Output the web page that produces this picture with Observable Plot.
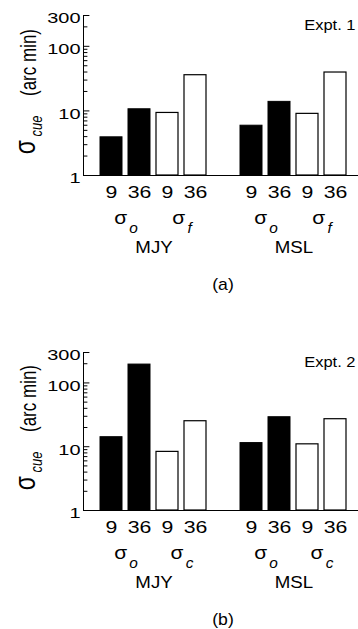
<!DOCTYPE html>
<html><head><meta charset="utf-8">
<script src="https://cdn.jsdelivr.net/npm/d3@7"></script>
<script src="https://cdn.jsdelivr.net/npm/@observablehq/plot@0.6"></script>
<style>
body{margin:0;background:#fff;}
#chart{width:358px;}
svg{display:block;}
</style></head><body><div id="chart"></div>
<script>
const subjects = ["MJY", "MSL"];
const noiseLevels = ["9", "36"];
const cues1 = ["o", "f"];
const cues2 = ["o", "c"];
const expt1MJY = [3.9, 10.6, 9.3, 35.7];
const expt1MSL = [5.9, 13.8, 9.0, 39.3];
const expt2MJY = [14.1, 194, 8.3, 25.1];
const expt2MSL = [11.4, 29.0, 10.9, 27.0];
const yMajor = [1, 10, 100, 300];
const yMinor = [2, 3, 4, 5, 6, 7, 8, 9, 20, 30, 40, 50, 60, 70, 80, 90, 200];
const panelLetters = ["(a)", "(b)"];
const exptNames = ["Expt. 1", "Expt. 2"];
const yLabelParts = ["σ", "cue", "(arc min)"];

function rowsFor(cues, mjy, msl) {
  const vals = {MJY: mjy, MSL: msl};
  const rows = [];
  subjects.forEach(s => cues.forEach((c, ci) => noiseLevels.forEach((n, ni) => {
    rows.push({subject: s, cue: c, n, key: `${s} ${c} ${n}`, value: vals[s][ci * 2 + ni], filled: c === "o"});
  })));
  return rows;
}

// the reference's lettering is horizontally wide: stretch glyphs about their anchor
function stretch(svg) {
  d3.select(svg).selectAll("text").each(function() {
    const t = this.textContent;
    const tr = this.getAttribute("transform");
    let s;
    if (tr && tr.includes("rotate")) s = " scale(1,1.3)";
    else if (/^\d+$/.test(t)) s = " scale(1.33,1)";
    else s = " scale(1.1,1)";
    if (tr) this.setAttribute("transform", tr + s);
    else {
      const x = +this.getAttribute("x") || 0, y = +this.getAttribute("y") || 0;
      this.setAttribute("transform", `translate(${x},${y})${s} translate(${-x},${-y})`);
    }
  });
}

// turn "σ_o" into a σ with an italic subscript
function subscripts(svg) {
  d3.select(svg).selectAll("text").each(function() {
    const t = this.textContent;
    if (t.indexOf("_") < 0) return;
    const parts = t.split("_");
    const sel = d3.select(this);
    sel.text(null);
    sel.append("tspan").attr("font-size", 19).text(parts[0]);
    sel.append("tspan").attr("dy", 9).attr("dx", 2).attr("font-style", "italic").attr("font-size", 14).text(parts[1]);
  });
}

// nudge the rotated axis-title pieces so their boxes sit where the reference shows them
function placeLabel(svg, mid) {
  const offsets = {"σ": [24.5, 52], "cue": [36, 31], "(arc min)": [28, -32.5]};
  const r0 = svg.getBoundingClientRect();
  d3.select(svg).selectAll("text").each(function() {
    const t = this.textContent;
    if (!(t in offsets)) return;
    const r = this.getBoundingClientRect();
    const cx = r.left + r.width / 2 - r0.left, cy = r.top + r.height / 2 - r0.top;
    const [tx, oy] = offsets[t];
    this.setAttribute("transform", `translate(${tx - cx},${mid + oy - cy}) ` + (this.getAttribute("transform") || ""));
  });
}

const tickRight = {draw(context, l) { context.moveTo(0, 0); context.lineTo(0, -l); }};

function panel(rows, expt, letter, height, marginBottom) {
  const domain = [...rows.filter(d => d.subject === "MJY").map(d => d.key), "gap",
                  ...rows.filter(d => d.subject === "MSL").map(d => d.key)];
  const below = {frameAnchor: "bottom", lineAnchor: "middle", textAnchor: "middle"};
  const side = {frameAnchor: "left", lineAnchor: "middle", textAnchor: "middle", rotate: -90};
  const svg = Plot.plot({
    width: 358, height, marginTop: 15, marginLeft: 83, marginRight: 0, marginBottom,
    style: {fontFamily: "'Liberation Sans', Arial, sans-serif", background: "white", color: "black", overflow: "visible"},
    x: {domain, range: [90.2, 355.8], paddingInner: 0.2, paddingOuter: 0.2, axis: null},
    y: {type: "log", domain: [1, 300], axis: null},
    marks: [
      Plot.barY(rows.filter(d => d.filled), {x: "key", y1: 1, y2: "value", fill: "black", stroke: "black", strokeWidth: 1}),
      Plot.barY(rows.filter(d => !d.filled), {x: "key", y1: 1, y2: "value", fill: "white", stroke: "black", strokeWidth: 1.2}),
      Plot.vector(yMajor, {y: d => d, frameAnchor: "left", rotate: 90, anchor: "start", length: 5.5, shape: tickRight, stroke: "black", strokeWidth: 1}),
      Plot.vector(yMinor, {y: d => d, frameAnchor: "left", rotate: 90, anchor: "start", length: 3.5, shape: tickRight, stroke: "black", strokeWidth: 1}),
      Plot.text(yMajor, {y: d => d, text: d => String(d), frameAnchor: "left", textAnchor: "end", lineAnchor: "middle", dx: -3, dy: 3, fontSize: 15}),
      Plot.frame({anchor: "left"}),
      Plot.frame({anchor: "bottom"}),
      Plot.text(rows, {x: "key", text: "n", ...below, dy: 17.5, fontSize: 16}),
      Plot.text(rows.filter(d => d.n === "9"), {x: "key", text: d => "σ_" + d.cue, ...below, dy: 43, dx: 14.5, fontSize: 17}),
      Plot.text(rows.filter(d => d.cue === "o" && d.n === "36"), {x: "key", text: "subject", ...below, dy: 72.5, dx: 14.5, fontSize: 17}),
      Plot.text([letter], {text: d => d, ...below, dy: 109.5, dx: 2, fontSize: 16}),
      Plot.text([expt], {text: d => d, frameAnchor: "top-right", textAnchor: "end", lineAnchor: "middle", dy: 10, dx: -3, fontSize: 15}),
      Plot.text([yLabelParts[0]], {text: d => d, ...side, dx: -57, dy: 52, fontSize: 23}),
      Plot.text([yLabelParts[1]], {text: d => d, ...side, dx: -47.5, dy: 31, fontSize: 13, fontStyle: "italic"}),
      Plot.text([yLabelParts[2]], {text: d => d, ...side, dx: -55, dy: -32.5, fontSize: 17})
    ]
  });
  stretch(svg);
  subscripts(svg);
  document.getElementById("chart").appendChild(svg);
  placeLabel(svg, 15 + (height - marginBottom - 15) / 2);
  return svg;
}

panel(rowsFor(cues1, expt1MJY, expt1MSL), exptNames[0], panelLetters[0], 337, 162);
panel(rowsFor(cues2, expt2MJY, expt2MSL), exptNames[1], panelLetters[1], 292, 119);
</script></body></html>
